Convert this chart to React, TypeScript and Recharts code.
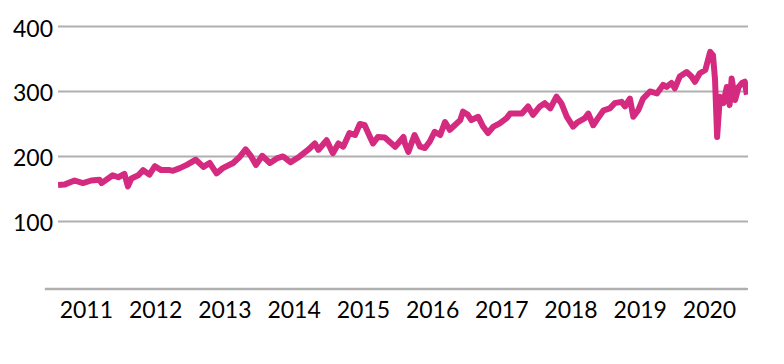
import React from "react";
import { LineChart, Line, XAxis, YAxis, CartesianGrid, ReferenceLine } from "recharts";

// decimal year of each reading
const years = [
  2010.59, 2010.69, 2010.83, 2010.95, 2011.07, 2011.19, 2011.22, 2011.38, 2011.46, 2011.55,
  2011.6, 2011.65, 2011.75, 2011.82, 2011.91, 2011.99, 2012.08, 2012.2, 2012.25, 2012.35,
  2012.45, 2012.58, 2012.69, 2012.78, 2012.88, 2012.97, 2013.12, 2013.22, 2013.3, 2013.38,
  2013.45, 2013.54, 2013.65, 2013.75, 2013.84, 2013.95, 2014.08, 2014.2, 2014.3, 2014.35,
  2014.47, 2014.56, 2014.64, 2014.71, 2014.8, 2014.88, 2014.95, 2015.02, 2015.07, 2015.14,
  2015.21, 2015.31, 2015.46, 2015.58, 2015.6, 2015.65, 2015.74, 2015.82, 2015.89, 2015.96,
  2016.03, 2016.11, 2016.18, 2016.25, 2016.32, 2016.4, 2016.44, 2016.51, 2016.56, 2016.66,
  2016.73, 2016.8, 2016.88, 2016.97, 2017.07, 2017.12, 2017.21, 2017.29, 2017.38, 2017.45,
  2017.55, 2017.62, 2017.7, 2017.79, 2017.86, 2017.94, 2018.03, 2018.1, 2018.2, 2018.25,
  2018.32, 2018.39, 2018.47, 2018.56, 2018.63, 2018.73, 2018.78, 2018.85, 2018.9, 2018.97,
  2019.04, 2019.14, 2019.24, 2019.33, 2019.38, 2019.45, 2019.5, 2019.57, 2019.67, 2019.74,
  2019.79, 2019.86, 2019.94, 2020.01, 2020.05, 2020.08, 2020.11, 2020.15, 2020.2, 2020.25,
  2020.29, 2020.32, 2020.37, 2020.42, 2020.47, 2020.51, 2020.54,
];

const values = [
  156, 157, 163, 159, 163, 164, 159, 171, 168, 173,
  154, 166, 171, 179, 172, 185, 179, 179, 178, 182,
  187, 195, 184, 190, 174, 182, 190, 200, 211, 200,
  187, 201, 190, 197, 200, 191, 200, 210, 220, 210,
  225, 205, 220, 215, 236, 233, 250, 248, 236, 220,
  230, 229, 215, 230, 220, 207, 233, 215, 213, 223,
  238, 233, 253, 241, 248, 256, 269, 264, 256, 261,
  246, 236, 246, 251, 259, 266, 266, 266, 277, 264,
  277, 282, 274, 292, 282, 261, 246, 253, 259, 266,
  248, 259, 271, 274, 282, 284, 277, 289, 261, 271,
  289, 300, 297, 310, 307, 313, 305, 323, 330, 323,
  315, 328, 333, 361, 356, 318, 230, 292, 282, 307,
  279, 320, 287, 307, 313, 315, 295,
];

const yearTicks = [2011, 2012, 2013, 2014, 2015, 2016, 2017, 2018, 2019, 2020];
const valueTicks = [100, 200, 300, 400];

const data = years.map((t, i) => ({ t, v: values[i] }));

const FONT = "Lato, 'Noto Sans', sans-serif";

const XTick = (props: any) => (
  <text x={props.x} y={props.y + 29} textAnchor="middle" fontFamily={FONT} fontSize={23} fill="#000">
    {props.payload.value}
  </text>
);

const YTick = (props: any) => (
  <text x={props.x - 5} y={props.y + 10} textAnchor="end" fontFamily={FONT} fontSize={23} fill="#000">
    {props.payload.value}
  </text>
);

export default function App() {
  return (
    <div style={{ position: "absolute", left: 0, top: 0, background: "#fff" }}>
      <LineChart width={784} height={364} data={data} margin={{ top: 26.5, right: 36, bottom: 35, left: 0 }}>
        <CartesianGrid horizontal vertical={false} stroke="#b0b0b0" strokeWidth={2} />
        <XAxis
          dataKey="t"
          type="number"
          domain={[2010.59, 2020.556]}
          ticks={yearTicks}
          axisLine={false}
          tickLine={false}
          tickSize={0}
          tickMargin={0}
          height={40}
          tick={<XTick />}
          allowDataOverflow
        />
        <YAxis
          type="number"
          domain={[-4, 400]}
          ticks={valueTicks}
          axisLine={false}
          tickLine={false}
          tickSize={0}
          tickMargin={0}
          width={58}
          tick={<YTick />}
          allowDataOverflow
        />
        <ReferenceLine
          segment={[
            { x: 2010.4, y: -4 },
            { x: 2020.54, y: -4 },
          ]}
          ifOverflow="visible"
          stroke="#b0b0b0"
          strokeWidth={2.5}
        />
        <Line
          dataKey="v"
          type="linear"
          stroke="#d42a7f"
          strokeWidth={6}
          strokeLinejoin="round"
          dot={false}
          isAnimationActive={false}
        />
      </LineChart>
    </div>
  );
}
